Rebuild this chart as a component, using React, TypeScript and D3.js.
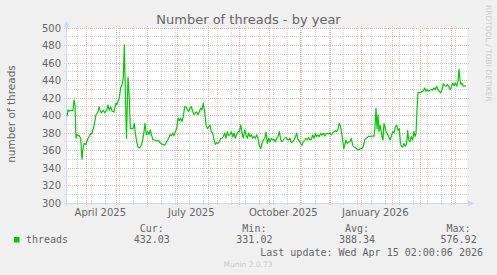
import React from "react";
import * as d3 from "d3";

const W = 497;
const H = 275;

const title = "Number of threads - by year";
const yAxisTitle = "number of threads";
const seriesName = "threads";

// y axis
const yDomain = [300, 500];
const yTickLabels = [300, 320, 340, 360, 380, 400, 420, 440, 460, 480, 500];
const yMinorTicks = [310, 330, 350, 370, 390, 410, 430, 450, 470, 490];

// x axis (time)
const startDate = new Date(Date.UTC(2025, 2, 12, 16, 48));
const spanDays = 400;
const monthLabels = ["April 2025", "July 2025", "October 2025", "January 2026"];
const monthLabelDates = [
  new Date(Date.UTC(2025, 3, 15)),
  new Date(Date.UTC(2025, 6, 15)),
  new Date(Date.UTC(2025, 9, 15)),
  new Date(Date.UTC(2026, 0, 15)),
];

// series: day offset from startDate, threads value
const days = [
  0, 1, 2, 4, 6, 7, 8, 9, 10, 12, 13.7, 15, 16, 17, 19, 21, 23, 25, 27, 29,
  31, 32, 33, 34.3, 36.3, 37.7, 39.7, 41, 42.3, 43.7, 45.3, 47, 48.7, 49.7, 51, 52.3, 53.7, 55.3, 56.3, 57.3,
  58.5, 59.5, 61, 62.3, 63.3, 64.7, 66, 67.3, 68.3, 69.7, 71, 72.7, 74.3, 75.7, 77, 78, 79.3, 80.7, 82, 83.3,
  84.7, 86, 87.7, 89.7, 92, 93.7, 95.7, 97.7, 99.7, 101.7, 103, 104.3, 105.7, 107, 108.3, 109.7, 111, 112.3, 113.7, 115,
  116.3, 117.7, 119, 120.3, 121.7, 123, 124.3, 125.7, 127, 128.3, 129.7, 131, 132.3, 133.7, 135, 136.3, 137.7, 139, 140.3, 141.7,
  143, 144.3, 145.7, 147, 148.3, 149.7, 151, 152.3, 153.7, 155, 156.3, 157.7, 159, 160.3, 161.7, 163, 164.3, 165.7, 167, 168.3,
  169.7, 171, 172.3, 173.7, 175, 176.3, 177.7, 179, 180.3, 181.7, 183, 184.3, 185.7, 187, 188.3, 189.7, 191, 192.3, 193.7, 195,
  196.3, 197.7, 199, 200.3, 201.7, 203, 204.3, 205.7, 207, 208.3, 209.7, 211, 212.3, 213.7, 215, 216.3, 217.7, 219, 220.3, 221.7,
  223, 224.3, 225.7, 227, 228.3, 229.7, 231, 232.3, 233.7, 235, 236.3, 237.7, 239, 240.3, 241.7, 243, 244.3, 245.7, 247, 248.3,
  249.7, 251, 252.3, 253.7, 255, 256.3, 257.7, 259, 260.3, 261.7, 263, 264.3, 265.7, 267, 268.3, 269.7, 271, 272.3, 273.3, 274.3,
  275.7, 276.7, 277.7, 279, 280.3, 281.7, 283, 284.3, 285.7, 287, 288.3, 289.7, 291, 292.3, 293.7, 295, 296.3, 297.7, 299, 300.3,
  301.7, 303, 304.3, 305.7, 307, 308, 309, 310, 311, 312, 313, 314, 315, 316, 317, 318, 319, 320.3, 321.7, 323,
  324.3, 325.7, 327, 328.3, 329.7, 331, 332.3, 333.3, 334.3, 335.7, 337, 338.3, 339.7, 340.7, 341.7, 343, 344.3, 345.7, 347, 348,
  349, 350, 351, 352.3, 353.7, 355, 356.3, 357.7, 359, 360.3, 361.7, 363, 364.3, 365.7, 367, 368.3, 369.7, 371, 372.3, 373.7,
  375, 376.3, 377.7, 379, 380.3, 381.7, 383, 384.3, 385.7, 387, 388.3, 389.7, 391, 392, 393, 394, 395, 396.3, 397.7, 399,
];
const threads = [
  399, 406.5, 405, 406, 405.5, 418, 412, 374, 378, 377, 374, 350, 362, 368, 367, 374, 378, 380, 388, 401,
  404, 410, 406, 403, 406, 403, 406, 412, 406, 410, 404.6, 404, 414, 412, 416, 420, 431.5, 436, 443, 481,
  420, 374, 444, 420, 385, 385, 385, 391, 380, 370, 364, 363, 366, 372, 381.5, 391, 378, 381.5, 378, 383.5,
  377, 372, 372, 371, 371, 368, 367, 366, 370, 374, 378, 377, 380, 377, 381.5, 385, 397, 394, 397, 393,
  399, 410, 410, 406.5, 404.6, 408.5, 410, 404.6, 401, 403, 404, 401, 404, 408.5, 406.5, 414, 404.6, 389, 385, 387,
  389, 381.5, 380, 372, 367, 369, 368, 370, 374, 374, 376, 380, 374, 381.5, 377, 378, 381.5, 375.5, 380, 374,
  378, 381.5, 381.5, 389, 380, 374, 383.5, 378, 374, 380, 376, 378, 374, 376, 374, 378, 374, 366, 362, 368,
  372, 374, 381, 368, 374, 370, 374, 372, 372.7, 370, 374, 376, 381.5, 372.7, 370, 372, 374, 375, 372.7, 372,
  374, 369, 370, 372, 375, 380, 372.7, 371, 368, 366, 370, 372, 374, 372, 375, 372, 372.7, 377.7, 374, 379,
  376, 377.7, 376, 379.6, 377.7, 379.6, 376.5, 379, 379.6, 379, 380, 377.7, 380, 381.5, 382.7, 381.5, 385, 391, 388, 383,
  372, 362, 366, 372, 368, 370, 370, 374, 366, 364, 363.5, 362, 361, 361, 362.7, 362, 365, 372, 374, 375,
  376.5, 376, 376.5, 376.5, 376.5, 387, 408.5, 385, 400.8, 381.5, 389, 383, 376, 372, 391, 387, 381.5, 379, 376, 372,
  376, 381.5, 380, 387, 389, 383, 385, 370, 365, 364, 368, 365, 368, 382.7, 372, 370, 376, 372, 381.5, 376,
  379.6, 406, 426.5, 426, 426.5, 427.7, 427.7, 431.5, 427.7, 429.6, 427.7, 429, 430, 429, 431.5, 429.6, 433.5, 429, 427.7, 425.8,
  429.6, 436.5, 434, 433.5, 435.4, 433.5, 429.6, 432.7, 437, 434, 437, 433.5, 439, 452.7, 441, 435.4, 437, 433.5, 434, 433.5,
];

const statLabels = ["Cur:", "Min:", "Avg:", "Max:"];
const statValues = ["432.03", "331.02", "388.34", "576.92"];
const lastUpdate = "Last update: Wed Apr 15 02:00:06 2026";
const version = "Munin 2.0.73";
const watermark = "RRDTOOL / TOBI OETIKER";

const SANS = "'DejaVu Sans', sans-serif";
const MONO = "'DejaVu Sans Mono', monospace";
const FONT_COLOR = "#666666";
const AXIS_COLOR = "#CFD6F8";
const GRID_COLOR = "#d4d4d4";
const MGRID_COLOR = "#efb3b3";
const LINE_COLOR = "#00cc00";

const DAY = 86400000;

export default function App() {
  const plotL = 67, plotR = 467, plotT = 28, plotB = 203;
  const endDate = new Date(startDate.getTime() + spanDays * DAY);
  const x = d3.scaleUtc().domain([startDate, endDate]).range([plotL, plotR]);
  const y = d3.scaleLinear().domain(yDomain).range([plotB, plotT]);
  const crisp = (v: number) => Math.floor(v) + 0.5;

  const majorX = d3.utcMonth.range(startDate, endDate);
  const minorX = d3.utcSunday.range(startDate, endDate).filter((_, i) => i % 2 === 1);

  const points: [Date, number][] = days.map((d, i) => [new Date(startDate.getTime() + d * DAY), threads[i]]);
  const line = d3
    .line<[Date, number]>()
    .x((p) => x(p[0]))
    .y((p) => y(p[1]));

  const axisY = crisp(y(yDomain[0]));
  const axisX = plotL - 0.5;
  const statX = [151.8, 254.4, 357, 458.6];

  return (
    <svg
      width={W}
      height={H}
      style={{ position: "absolute", left: 0, top: 0, display: "block" }}
      xmlns="http://www.w3.org/2000/svg"
    >
      <rect x={0} y={0} width={W} height={H} fill="#f0f0f0" />
      <rect x={plotL} y={plotT} width={plotR - plotL} height={plotB - plotT} fill="#ffffff" />

      {/* minor grid */}
      <g stroke={GRID_COLOR} strokeWidth={1} strokeDasharray="1,1" shapeRendering="crispEdges">
        {yMinorTicks.map((v) => (
          <line key={"hy" + v} x1={plotL - 3} x2={plotR + 3} y1={crisp(y(v))} y2={crisp(y(v))} />
        ))}
        {minorX.map((d) => (
          <line key={"vx" + d.getTime()} x1={crisp(x(d))} x2={crisp(x(d))} y1={plotT - 2} y2={plotB + 3} />
        ))}
      </g>
      {/* major grid */}
      <g stroke={MGRID_COLOR} strokeWidth={1} strokeDasharray="1,1" shapeRendering="crispEdges">
        {yTickLabels.slice(1).map((v) => (
          <line key={"My" + v} x1={plotL - 3} x2={plotR + 3} y1={crisp(y(v))} y2={crisp(y(v))} />
        ))}
        {majorX.map((d) => (
          <line key={"Mx" + d.getTime()} x1={crisp(x(d))} x2={crisp(x(d))} y1={plotT - 2} y2={plotB + 3} />
        ))}
      </g>

      {/* axes */}
      <g stroke={AXIS_COLOR} strokeWidth={1} shapeRendering="crispEdges">
        <line x1={plotL - 3} x2={plotR + 4} y1={axisY} y2={axisY} />
        <line x1={axisX} x2={axisX} y1={plotB + 3} y2={plotT - 4} />
      </g>
      <g fill={AXIS_COLOR}>
        <path d={`M${axisX},${plotT - 7} L${axisX - 3},${plotT - 1} L${axisX + 3},${plotT - 1} Z`} />
        <path d={`M${plotR + 7},${axisY} L${plotR + 1},${axisY - 3} L${plotR + 1},${axisY + 3} Z`} />
      </g>

      {/* series */}
      <path d={line(points) || ""} fill="none" stroke={LINE_COLOR} strokeWidth={1.2} strokeLinejoin="round" />

      {/* title */}
      <text x={248.5} y={24} textAnchor="middle" fontFamily={SANS} fontSize={13} fill={FONT_COLOR}>
        {title}
      </text>

      {/* y tick labels */}
      <g fontFamily={SANS} fontSize={10} fill={FONT_COLOR} textAnchor="end">
        {yTickLabels.map((v) => (
          <text key={"yl" + v} x={61} y={crisp(y(v)) + 3.5}>
            {v}
          </text>
        ))}
      </g>

      {/* x tick labels */}
      <g fontFamily={SANS} fontSize={10} fill={FONT_COLOR} textAnchor="middle">
        {monthLabels.map((lab, i) => (
          <text key={lab} x={x(monthLabelDates[i])} y={216}>
            {lab}
          </text>
        ))}
      </g>

      {/* y axis title */}
      <text
        transform="translate(15,114) rotate(-90)"
        textAnchor="middle"
        fontFamily={SANS}
        fontSize={10.5}
        fill={FONT_COLOR}
      >
        {yAxisTitle}
      </text>

      {/* watermark */}
      <text transform="translate(485.5,5) rotate(90)" fontFamily={SANS} fontSize={7.5} fill="#cccccc">
        {watermark}
      </text>

      {/* legend */}
      <rect x={14} y={237} width={5.5} height={5.5} fill={LINE_COLOR} />
      <text x={26} y={242.5} fontFamily={MONO} fontSize={10} fill={FONT_COLOR}>
        {seriesName}
      </text>
      <g fontFamily={MONO} fontSize={10} fill={FONT_COLOR} textAnchor="middle">
        {statLabels.map((s, i) => (
          <text key={s} x={statX[i]} y={231.5}>
            {s}
          </text>
        ))}
        {statValues.map((s, i) => (
          <text key={s} x={statX[i]} y={242.5}>
            {s}
          </text>
        ))}
      </g>
      <text x={483} y={255.5} textAnchor="end" fontFamily={MONO} fontSize={10} fill={FONT_COLOR}>
        {lastUpdate}
      </text>
      <text x={248} y={267} textAnchor="middle" fontFamily={SANS} fontSize={7.5} fill="#cccccc">
        {version}
      </text>
    </svg>
  );
}
